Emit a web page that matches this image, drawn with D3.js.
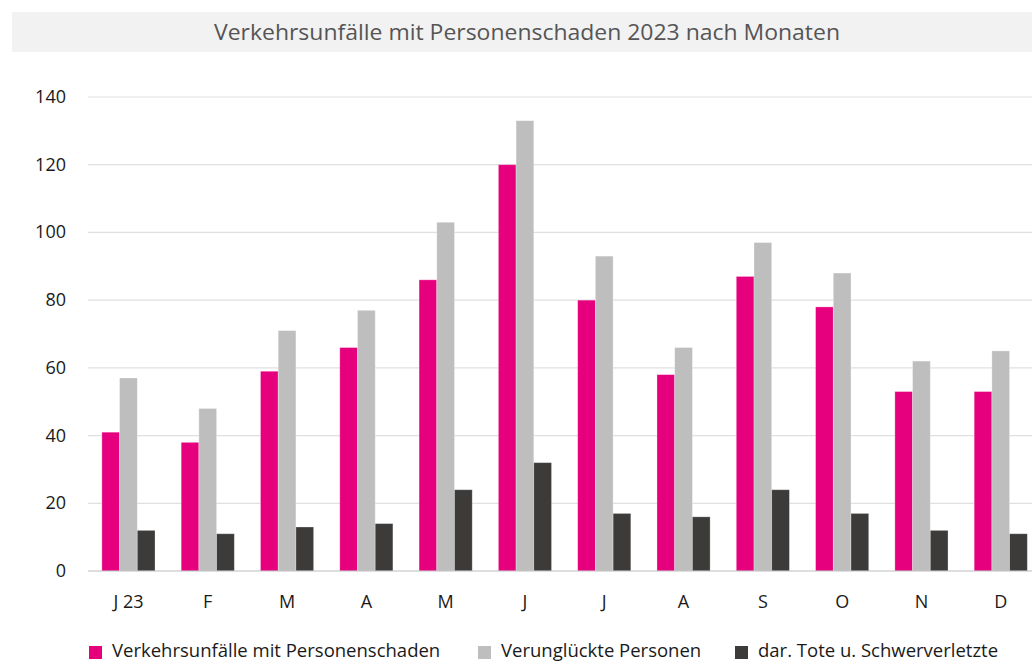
<!DOCTYPE html>
<html>
<head>
<meta charset="utf-8">
<script src="https://cdn.jsdelivr.net/npm/d3@7"></script>
<style>
  body { margin: 0; background: #fff; }
  svg { display: block; font-family: "Open Sans", "Noto Sans", sans-serif; }
</style>
</head>
<body>
<svg width="1032" height="663"></svg>
<script>
const months = ["J 23", "F", "M", "A", "M", "J", "J", "A", "S", "O", "N", "D"];
const seriesNames = ["Verkehrsunfälle mit Personenschaden", "Verunglückte Personen", "dar. Tote u. Schwerverletzte"];
const unfaelle = [41, 38, 59, 66, 86, 120, 80, 58, 87, 78, 53, 53];
const verunglueckte = [57, 48, 71, 77, 103, 133, 93, 66, 97, 88, 62, 65];
const toteSchwer = [12, 11, 13, 14, 24, 32, 17, 16, 24, 17, 12, 11];
const yTicks = [0, 20, 40, 60, 80, 100, 120, 140];
const colors = ["#e6007e", "#bebebe", "#3c3b39"];

const svg = d3.select("svg");

// title bar
svg.append("rect")
  .attr("x", 12).attr("y", 12)
  .attr("width", 1020).attr("height", 40)
  .attr("fill", "#f2f2f2");

svg.append("text")
  .attr("x", 527).attr("y", 40)
  .attr("text-anchor", "middle")
  .attr("fill", "#555")
  .style("font-size", "22px")
  .attr("textLength", 626)
  .attr("lengthAdjust", "spacingAndGlyphs")
  .text("Verkehrsunfälle mit Personenschaden 2023 nach Monaten");

const x0 = d3.scaleBand()
  .domain(d3.range(months.length))
  .range([88.8, 1040.4])
  .paddingInner(0.33)
  .paddingOuter(0.165);

const x1 = d3.scaleBand()
  .domain(d3.range(3))
  .range([0, x0.bandwidth()]);

const y = d3.scaleLinear()
  .domain([0, 140])
  .range([571, 97]);

// gridlines
svg.append("g")
  .selectAll("line")
  .data(yTicks.filter(d => d > 0))
  .enter()
  .append("line")
  .attr("x1", 88).attr("x2", 1032)
  .attr("y1", d => y(d)).attr("y2", d => y(d))
  .attr("stroke", "#e0e0e0")
  .attr("stroke-width", 1.2);

// y labels
svg.append("g")
  .selectAll("text")
  .data(yTicks)
  .enter()
  .append("text")
  .attr("x", 66)
  .attr("y", d => y(d) + 6)
  .attr("text-anchor", "end")
  .attr("fill", "#1a1a1a")
  .style("font-size", "18px")
  .text(d => d);

// bars
const data = months.map((m, i) => [unfaelle[i], verunglueckte[i], toteSchwer[i]]);

const groups = svg.append("g")
  .selectAll("g")
  .data(data)
  .enter()
  .append("g")
  .attr("transform", (d, i) => `translate(${x0(i)},0)`);

groups.selectAll("rect")
  .data(d => d)
  .enter()
  .append("rect")
  .attr("x", (d, j) => x1(j))
  .attr("y", d => y(d))
  .attr("width", x1.bandwidth())
  .attr("height", d => y(0) - y(d))
  .attr("fill", (d, j) => colors[j])
  .attr("stroke", "#fff")
  .attr("stroke-opacity", 0.35)
  .attr("stroke-width", 0.8);

// baseline
svg.append("line")
  .attr("x1", 88).attr("x2", 1032)
  .attr("y1", y(0)).attr("y2", y(0))
  .attr("stroke", "#bdbdbd")
  .attr("stroke-width", 1.2);

// x labels
svg.append("g")
  .selectAll("text")
  .data(months)
  .enter()
  .append("text")
  .attr("x", (d, i) => x0(i) + x0.bandwidth() / 2)
  .attr("y", 608)
  .attr("text-anchor", "middle")
  .attr("fill", "#1a1a1a")
  .style("font-size", "18px")
  .text(d => d);

// legend
const legendX = [89, 478, 735];
const legend = svg.append("g")
  .selectAll("g")
  .data(seriesNames)
  .enter()
  .append("g")
  .attr("transform", (d, i) => `translate(${legendX[i]},646)`);

legend.append("rect")
  .attr("width", 13).attr("height", 13)
  .attr("fill", (d, i) => colors[i]);

legend.append("text")
  .attr("x", 23)
  .attr("y", 11)
  .attr("fill", "#1a1a1a")
  .style("font-size", "18.5px")
  .text(d => d);
</script>
</body>
</html>
